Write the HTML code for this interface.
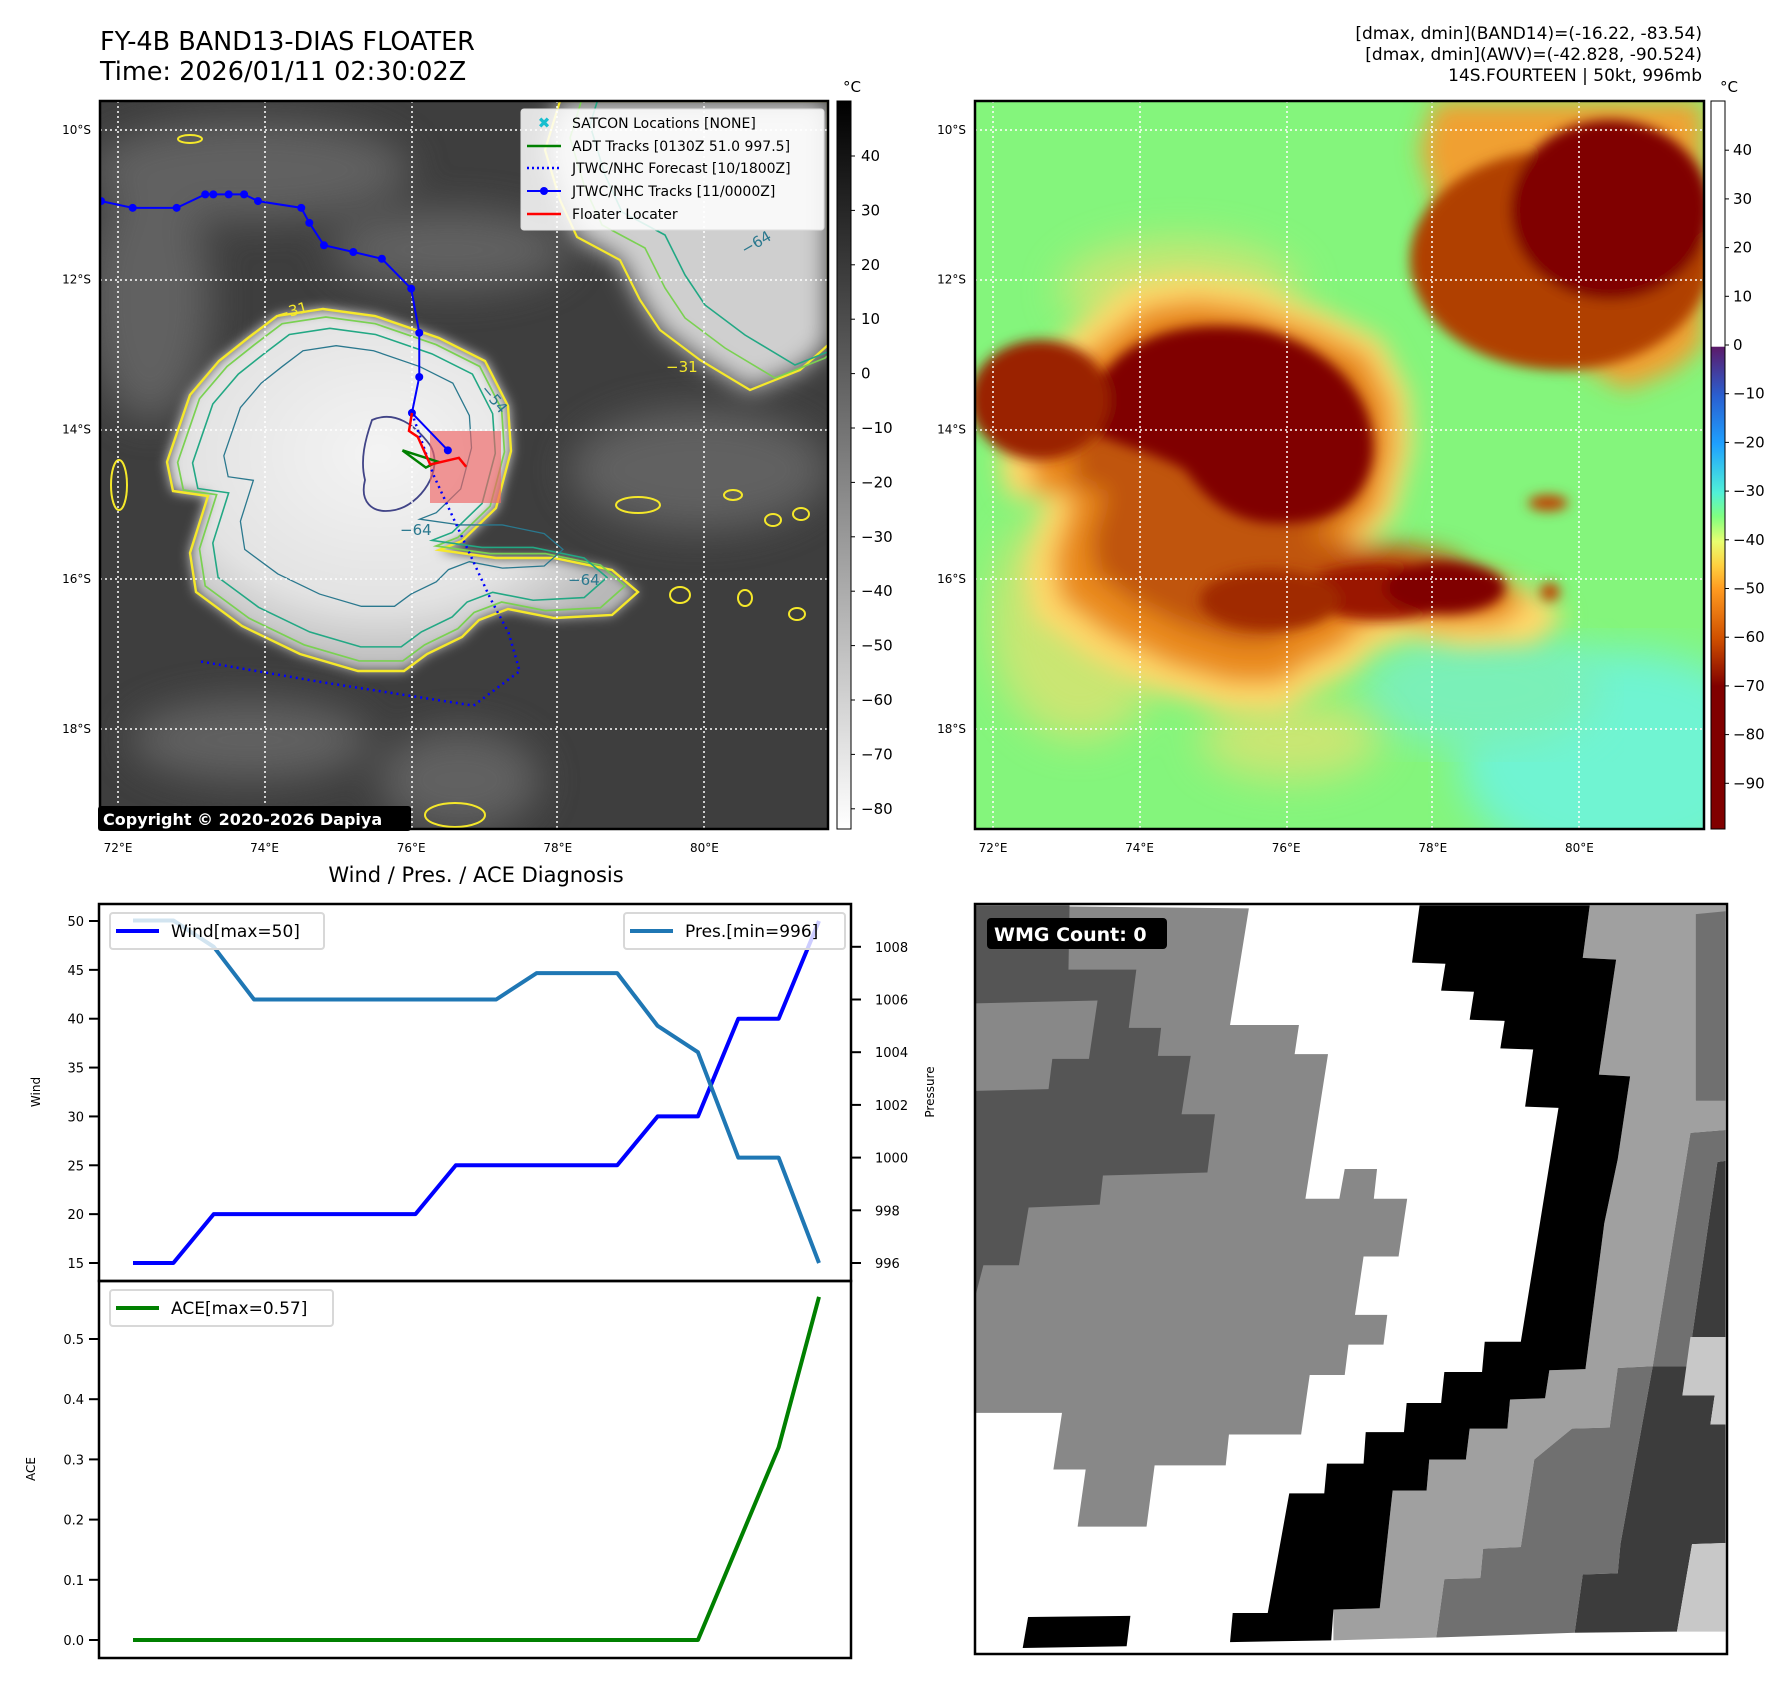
<!DOCTYPE html>
<html><head><meta charset="utf-8"><style>
html,body{margin:0;padding:0;background:#fff;}
body{width:1792px;height:1690px;position:relative;overflow:hidden;font-family:"DejaVu Sans","Liberation Sans",sans-serif;}
svg text{font-family:"DejaVu Sans","Liberation Sans",sans-serif;}
</style></head><body>
<svg id="fig" width="1792" height="1690" viewBox="0 0 1792 1690" xmlns="http://www.w3.org/2000/svg">
<defs>
  <filter id="blur6"><feGaussianBlur stdDeviation="6"/></filter>
  <filter id="blur12"><feGaussianBlur stdDeviation="12"/></filter>
  <filter id="blur20"><feGaussianBlur stdDeviation="20"/></filter>
  <radialGradient id="cloudg" cx="0.45" cy="0.4" r="0.6"><stop offset="0" stop-color="#f4f4f4"/><stop offset="0.7" stop-color="#e2e2e2"/><stop offset="1" stop-color="#b8b8b8"/></radialGradient>
  <linearGradient id="cbgray" x1="0" y1="0" x2="0" y2="1"><stop offset="0" stop-color="#000"/><stop offset="1" stop-color="#fff"/></linearGradient>
  <linearGradient id="cbcol" x1="0" y1="0" x2="0" y2="1">
    <stop offset="0" stop-color="#fff"/><stop offset="0.337" stop-color="#fff"/>
    <stop offset="0.338" stop-color="#5c1a6a"/><stop offset="0.405" stop-color="#2a5fd0"/>
    <stop offset="0.471" stop-color="#1ea0ff"/><stop offset="0.538" stop-color="#50f0d8"/>
    <stop offset="0.571" stop-color="#80ff80"/><stop offset="0.605" stop-color="#e8ff70"/>
    <stop offset="0.638" stop-color="#ffd040"/><stop offset="0.671" stop-color="#ff9a20"/>
    <stop offset="0.738" stop-color="#d05000"/><stop offset="0.804" stop-color="#800000"/><stop offset="1" stop-color="#800000"/>
  </linearGradient>
  <clipPath id="clipL"><rect x="100" y="101" width="728" height="728"/></clipPath>
  <clipPath id="clipR"><rect x="975" y="101" width="729" height="728"/></clipPath>
  <clipPath id="clipB"><rect x="975" y="904" width="752" height="750"/></clipPath>
  <path id="stormOutline" d="M277,316 L323,309 L375,316 L439,338 L485,361 L508,406 L511,451 L496,508 L462,541 L439,550 L496,558 L554,558 L612,570 L638,592 L612,615 L554,618 L508,609 L479,620 L462,637 L427,654 L404,671 L358,671 L300,654 L242,626 L196,592 L190,553 L208,496 L173,491 L167,462 L190,395 L219,361 L248,338 Z"/>
  <path id="nwCloud" d="M577,237 L620,260 L640,300 L660,330 L700,360 L750,390 L800,370 L828,345 L828,101 L560,101 L545,150 L560,200 Z"/>
</defs>

<!-- Titles -->
<text x="100" y="50" font-size="25.5" fill="#000">FY-4B BAND13-DIAS FLOATER</text>
<text x="100" y="80" font-size="25.5" fill="#000">Time: 2026/01/11 02:30:02Z</text>
<g font-size="17" text-anchor="end" fill="#000">
  <text x="1702" y="39">[dmax, dmin](BAND14)=(-16.22, -83.54)</text>
  <text x="1702" y="60">[dmax, dmin](AWV)=(-42.828, -90.524)</text>
  <text x="1702" y="81">14S.FOURTEEN | 50kt, 996mb</text>
</g>

<!-- LEFT MAP -->
<g clip-path="url(#clipL)">
  <rect x="100" y="101" width="728" height="728" fill="#3e3e3e"/>
  <g filter="url(#blur20)" fill="#6a6a6a" opacity="0.8">
    <ellipse cx="250" cy="170" rx="160" ry="50"/>
    <ellipse cx="450" cy="250" rx="120" ry="40"/>
    <ellipse cx="150" cy="300" rx="60" ry="120"/>
    <ellipse cx="700" cy="470" rx="130" ry="60"/>
    <ellipse cx="460" cy="780" rx="80" ry="50"/>
    <ellipse cx="250" cy="740" rx="120" ry="40"/>
  </g>
  <use href="#nwCloud" fill="#cfcfcf" filter="url(#blur12)"/>
  <use href="#stormOutline" fill="url(#cloudg)" filter="url(#blur6)"/>
  <use href="#nwCloud" fill="none" stroke="#f5e82a" stroke-width="2.2"/>
  <use href="#nwCloud" fill="none" stroke="#7ad151" stroke-width="1.6" transform="translate(25,-12)"/>
  <use href="#nwCloud" fill="none" stroke="#22a884" stroke-width="1.6" transform="translate(45,-25)"/>
  <use href="#stormOutline" fill="none" stroke="#f5e82a" stroke-width="2.4"/>
  <use href="#stormOutline" fill="none" stroke="#7ad151" stroke-width="1.8" transform="translate(380,470) scale(0.95) translate(-380,-470)"/>
  <use href="#stormOutline" fill="none" stroke="#22a884" stroke-width="1.8" transform="translate(380,470) scale(0.88) translate(-380,-470)"/>
  <use href="#stormOutline" fill="none" stroke="#2a788e" stroke-width="1.8" transform="translate(370,440) scale(0.72) translate(-370,-440)"/>
  <path d="M372,420 C395,410 415,425 430,445 C445,470 420,505 395,510 C370,515 360,500 365,480 C360,460 365,440 372,420 Z" fill="none" stroke="#414487" stroke-width="1.8"/>
  <ellipse cx="638" cy="505" rx="22" ry="8" fill="none" stroke="#f5e82a" stroke-width="2"/>
  <g fill="none" stroke="#f5e82a" stroke-width="2">
    <ellipse cx="733" cy="495" rx="9" ry="5"/><ellipse cx="773" cy="520" rx="8" ry="6"/>
    <ellipse cx="801" cy="514" rx="8" ry="6"/><ellipse cx="680" cy="595" rx="10" ry="8"/>
    <ellipse cx="745" cy="598" rx="7" ry="8"/><ellipse cx="797" cy="614" rx="8" ry="6"/>
    <ellipse cx="190" cy="139" rx="12" ry="4"/><ellipse cx="119" cy="485" rx="8" ry="25"/>
    <ellipse cx="455" cy="815" rx="30" ry="12"/>
  </g>
  <g stroke="#fff" stroke-width="1.5" stroke-dasharray="2,3" fill="none">
    <line x1="100" y1="130" x2="828" y2="130"/><line x1="100" y1="280" x2="828" y2="280"/>
    <line x1="100" y1="430" x2="828" y2="430"/><line x1="100" y1="579" x2="828" y2="579"/>
    <line x1="100" y1="729" x2="828" y2="729"/>
    <line x1="118" y1="101" x2="118" y2="829"/><line x1="265" y1="101" x2="265" y2="829"/>
    <line x1="412" y1="101" x2="412" y2="829"/><line x1="557" y1="101" x2="557" y2="829"/>
    <line x1="704" y1="101" x2="704" y2="829"/>
  </g>
  <rect x="430" y="431" width="71" height="72" fill="rgba(240,100,100,0.65)"/>
  <g font-size="15" fill="#2a788e">
    <text x="480" y="390" transform="rotate(50 480 390)">−54</text>
    <text x="400" y="535">−64</text>
    <text x="568" y="585">−64</text>
    <text x="745" y="255" transform="rotate(-30 745 255)">−64</text>
  </g>
  <g font-size="15" fill="#f5e82a"><text x="278" y="320" transform="rotate(-15 278 320)">−31</text><text x="666" y="372">−31</text></g>
  <g id="tracks"></g>
</g>
<rect x="100" y="101" width="728" height="728" fill="none" stroke="#000" stroke-width="2.5"/>
<rect x="98" y="806" width="313" height="25" rx="3" fill="#000"/>
<text x="103" y="825" font-size="16" font-weight="bold" fill="#fff">Copyright © 2020-2026 Dapiya</text>
<g>
  <rect x="521" y="109" width="303" height="121" rx="3" fill="rgba(255,255,255,0.85)" stroke="#ddd"/>
  <text x="544" y="128" font-size="15" fill="#17becf" text-anchor="middle" font-weight="bold">✖</text>
  <line x1="527" y1="146" x2="561" y2="146" stroke="#008000" stroke-width="2.5"/>
  <line x1="527" y1="168" x2="561" y2="168" stroke="#0000ff" stroke-width="2.5" stroke-dasharray="2,3"/>
  <line x1="527" y1="191" x2="561" y2="191" stroke="#0000ff" stroke-width="2"/><circle cx="544" cy="191" r="4" fill="#0000ff"/>
  <line x1="527" y1="214" x2="561" y2="214" stroke="#ff0000" stroke-width="2.5"/>
  <g font-size="14" fill="#000">
    <text x="572" y="128">SATCON Locations [NONE]</text>
    <text x="572" y="151">ADT Tracks [0130Z 51.0 997.5]</text>
    <text x="572" y="173">JTWC/NHC Forecast [10/1800Z]</text>
    <text x="572" y="196">JTWC/NHC Tracks [11/0000Z]</text>
    <text x="572" y="219">Floater Locater</text>
  </g>
</g>
<rect x="837" y="101" width="14" height="728" fill="url(#cbgray)" stroke="#000" stroke-width="1"/>
<text x="852" y="92" font-size="15" text-anchor="middle">°C</text>
<g id="cbLticks" font-size="15" fill="#000"></g>
<g id="mapLabels" font-size="12" fill="#000"></g>

<!-- RIGHT MAP -->
<g clip-path="url(#clipR)">
  <rect x="975" y="101" width="729" height="728" fill="#84f57c"/>
  <ellipse cx="1620" cy="760" rx="160" ry="110" fill="#6ff4d2" filter="url(#blur20)"/>
  <ellipse cx="1480" cy="690" rx="120" ry="60" fill="#7af0b8" filter="url(#blur20)"/>
  <g filter="url(#blur20)" fill="#e8e070" opacity="0.7">
    <ellipse cx="1080" cy="620" rx="90" ry="120"/>
    <ellipse cx="1180" cy="290" rx="120" ry="50"/>
    <ellipse cx="1290" cy="740" rx="90" ry="40"/>
  </g>
  <g filter="url(#blur12)">
    <use href="#nwCloud" fill="#f0a030" transform="translate(875,0)"/>
    <use href="#stormOutline" fill="#ffd86a" transform="translate(1255,470) scale(1.2) translate(-380,-470)"/>
    <use href="#stormOutline" fill="#ea8a1c" transform="translate(1255,470) scale(1.06) translate(-380,-470)"/>
    <use href="#stormOutline" fill="#c05508" transform="translate(1245,460) scale(0.86) translate(-370,-460)"/>
  </g>
  <g filter="url(#blur6)">
    <ellipse cx="1560" cy="260" rx="150" ry="110" fill="#b04000"/>
    <ellipse cx="1610" cy="210" rx="100" ry="90" fill="#800000"/>
    <path d="M1100,380 C1130,330 1200,320 1260,330 C1330,345 1380,400 1372,460 C1362,515 1310,528 1260,522 C1220,515 1200,490 1185,470 C1160,455 1120,445 1098,435 Z" fill="#800000"/>
    <ellipse cx="1380" cy="592" rx="80" ry="28" fill="#9a1800"/>
    <ellipse cx="1445" cy="588" rx="60" ry="26" fill="#800000"/>
    <ellipse cx="1270" cy="600" rx="70" ry="30" fill="#a02a00"/>
    <ellipse cx="1040" cy="400" rx="70" ry="60" fill="#9a2000"/>
    <ellipse cx="1548" cy="503" rx="20" ry="8" fill="#c04000"/>
    <ellipse cx="1550" cy="592" rx="10" ry="9" fill="#c04000"/>
  </g>
  <g stroke="#fff" stroke-width="1.5" stroke-dasharray="2,3" fill="none">
    <line x1="975" y1="130" x2="1704" y2="130"/><line x1="975" y1="280" x2="1704" y2="280"/>
    <line x1="975" y1="430" x2="1704" y2="430"/><line x1="975" y1="579" x2="1704" y2="579"/>
    <line x1="975" y1="729" x2="1704" y2="729"/>
    <line x1="993" y1="101" x2="993" y2="829"/><line x1="1140" y1="101" x2="1140" y2="829"/>
    <line x1="1287" y1="101" x2="1287" y2="829"/><line x1="1432" y1="101" x2="1432" y2="829"/>
    <line x1="1579" y1="101" x2="1579" y2="829"/>
  </g>
</g>
<rect x="975" y="101" width="729" height="728" fill="none" stroke="#000" stroke-width="2.5"/>
<rect x="1711" y="101" width="14" height="728" fill="url(#cbcol)" stroke="#000" stroke-width="1"/>
<text x="1729" y="92" font-size="15" text-anchor="middle">°C</text>
<g id="cbRticks" font-size="15" fill="#000"></g>

<!-- BOTTOM RIGHT -->
<g clip-path="url(#clipB)">
  <rect x="975" y="904" width="752" height="750" fill="#fff"/>
  <g transform="translate(950,780) scale(0.5385,0.5833)">
    <polygon fill="#888" points="47,215 555,220 520,420 648,420 640,470 702,470 660,718 723,718 733,667 793,667 787,718 849,718 833,817 768,817 752,917 812,917 805,968 740,968 733,1020 668,1020 652,1122 518,1122 512,1175 380,1175 365,1280 237,1280 252,1182 192,1182 208,1085 47,1085"/>
    <polygon fill="#555" points="47,215 222,215 220,325 346,325 332,425 392,425 386,473 447,473 430,573 492,573 478,673 284,678 278,728 146,733 128,832 62,832 47,885"/>
    <polygon fill="#888" points="47,383 274,378 258,478 190,478 183,530 47,533"/>
    <polygon fill="#a0a0a0" points="1188,215 1440,215 1440,240 1385,550 1440,550 1440,600 1375,605 1305,1005 1240,1008 1225,1110 1155,1112 1085,1165 1060,1315 990,1318 985,1368 918,1370 903,1470 712,1475 712,1422 798,1420 822,1218 885,1218 890,1165 958,1165 965,1112 1035,1112 1040,1062 1105,1060 1113,1012 1180,1010 1215,760 1240,650 1263,508 1205,505 1237,308 1175,305"/>
    <polygon fill="#707070" points="1385,230 1440,225 1440,550 1385,550"/>
    <polygon fill="#707070" points="1375,605 1440,600 1440,653 1425,655 1378,955 1370,1005 1305,1005"/>
    <polygon fill="#707070" points="1240,1008 1305,1005 1245,1310 1240,1360 1175,1362 1160,1462 903,1470 918,1370 985,1368 990,1318 1060,1315 1085,1165 1155,1112 1225,1110"/>
    <polygon fill="#3c3c3c" points="1425,655 1440,653 1440,955 1378,955"/>
    <polygon fill="#3c3c3c" points="1305,1005 1370,1005 1360,1055 1420,1055 1412,1105 1440,1105 1440,1308 1378,1310 1350,1460 1160,1462 1175,1362 1240,1360 1245,1310"/>
    <polygon fill="#c8c8c8" points="1375,955 1440,955 1440,1105 1412,1105 1420,1055 1360,1055"/>
    <polygon fill="#c8c8c8" points="1378,1310 1440,1308 1440,1460 1350,1460"/>
    <polygon fill="#000" points="872,215 1188,215 1175,305 1237,308 1205,505 1263,508 1240,650 1215,760 1180,1010 1113,1012 1105,1060 1040,1062 1035,1112 965,1112 958,1165 890,1165 885,1218 822,1218 798,1420 712,1422 708,1475 520,1478 525,1428 590,1428 630,1223 695,1223 700,1172 768,1172 772,1118 843,1118 848,1068 912,1068 918,1015 988,1015 993,963 1060,963 1130,562 1068,560 1083,462 1022,460 1030,413 965,411 973,363 912,361 920,315 858,313"/>
    <polygon fill="#000" points="145,1435 335,1433 328,1485 135,1488"/>
  </g>
</g>
<rect x="975" y="904" width="752" height="750" fill="none" stroke="#000" stroke-width="2.5"/>
<rect x="987" y="918" width="180" height="31" rx="4" fill="#000"/>
<text x="994" y="941" font-size="19" font-weight="bold" fill="#fff">WMG Count: 0</text>

<!-- BOTTOM LEFT CHART -->
<text x="476" y="882" font-size="21" text-anchor="middle">Wind / Pres. / ACE Diagnosis</text>
<g id="chart"></g>
</svg>

<script>
// ---- chart data ----
const steps = [0,1,2,3,4,5,6,7,8,9,10,11,12,13,14,15,16,17];
const windValues = [15,15,20,20,20,20,20,20,25,25,25,25,25,30,30,40,40,50];
const presValues = [1009,1009,1008,1006,1006,1006,1006,1006,1006,1006,1007,1007,1007,1005,1004,1000,1000,996];
const aceValues = [0,0,0,0,0,0,0,0,0,0,0,0,0,0,0,0.16,0.32,0.57];
const windTicks = [15,20,25,30,35,40,45,50];
const presTicks = [996,998,1000,1002,1004,1006,1008];
const aceTicks = [0.0,0.1,0.2,0.3,0.4,0.5];
// ---- track data (lon E, lat S) ----
const bestLon = [71.77,72.20,72.80,73.19,73.30,73.51,73.72,73.91,74.50,74.61,74.81,75.21,75.60,76.00,76.11,76.11,76.01,76.50];
const bestLat = [10.95,11.04,11.04,10.86,10.86,10.86,10.86,10.95,11.04,11.24,11.54,11.63,11.72,12.12,12.71,13.30,13.78,14.28];
const fcstLon = [76.01,76.30,77.08,77.33,77.48,76.85,74.80,73.12];
const fcstLat = [13.78,14.60,16.26,16.72,17.23,17.69,17.38,17.10];
const floaterLon = [76.01,75.97,76.09,76.26,76.65,76.75];
const floaterLat = [13.78,14.02,14.10,14.47,14.38,14.50];
const adtLon = [75.88,76.36,76.20,75.88];
const adtLat = [14.28,14.43,14.51,14.28];
const latTicks = [10,12,14,16,18];
const lonTicks = [72,74,76,78,80];
const grayCbTicks = [40,30,20,10,0,-10,-20,-30,-40,-50,-60,-70,-80];
const colorCbTicks = [40,30,20,10,0,-10,-20,-30,-40,-50,-60,-70,-80,-90];

const NS = 'http://www.w3.org/2000/svg';
function mk(parent, tag, attrs, text){
  const e = document.createElementNS(NS, tag);
  for (const k in attrs) e.setAttribute(k, attrs[k]);
  if (text !== undefined) e.textContent = text;
  parent.appendChild(e);
  return e;
}
function fmt(v){ return (v<0?'\u2212':'') + Math.abs(v); }

const mx = lon => 118 + (lon-72)*73.3;
const my = lat => 130 + (lat-10)*74.85;

const tr = document.getElementById('tracks');
function pts(lons, lats){ return lons.map((l,i)=>mx(l)+','+my(lats[i])).join(' '); }
let fl = mk(tr,'polyline',{points:pts(fcstLon,fcstLat),fill:'none',stroke:'#0000ff','stroke-width':2.5,'stroke-dasharray':'2,4'});


let bl = mk(tr,'polyline',{points:pts(bestLon,bestLat),fill:'none',stroke:'#0000ff','stroke-width':2});


bestLon.forEach((l,i)=>{
  const c = mk(tr,'circle',{cx:mx(l),cy:my(bestLat[i]),r:4,fill:'#0000ff'});
  
  
});
let al = mk(tr,'polyline',{points:pts(adtLon,adtLat),fill:'none',stroke:'#008000','stroke-width':2.5});


let rl = mk(tr,'polyline',{points:pts(floaterLon,floaterLat),fill:'none',stroke:'#ff0000','stroke-width':2.5});



const ml = document.getElementById('mapLabels');
[0,875].forEach(off=>{
  latTicks.forEach(v=>{
    const t = mk(ml,'text',{x:91+off,y:my(v)+4,'text-anchor':'end'}, v+'°S');
    
    
  });
  lonTicks.forEach(v=>{
    const t = mk(ml,'text',{x:mx(v)+off,y:852,'text-anchor':'middle'}, v+'°E');
    
    
  });
});

const cl = document.getElementById('cbLticks');
grayCbTicks.forEach(v=>{
  const y = 156 + (40-v)*5.44;
  mk(cl,'line',{x1:851,y1:y,x2:855,y2:y,stroke:'#000','stroke-width':1});
  const t = mk(cl,'text',{x:861,y:y+5}, fmt(v));
  
  
});
const cr = document.getElementById('cbRticks');
colorCbTicks.forEach(v=>{
  const y = 345 - v*4.87;
  mk(cr,'line',{x1:1725,y1:y,x2:1729,y2:y,stroke:'#000','stroke-width':1});
  const t = mk(cr,'text',{x:1733,y:y+5}, fmt(v));
  
  
});

// ---- diagnosis chart ----
const ch = document.getElementById('chart');
const X0 = 133, X1 = 819;
const xi = i => X0 + i*(X1-X0)/(steps.length-1);
const yW = v => 1263 - (v-15)*(342/35);
const yP = p => 1263 - (p-996)*26.35;
const yA = a => 1640 - a*602;

mk(ch,'rect',{x:99,y:904,width:752,height:377,fill:'#fff'});
mk(ch,'rect',{x:99,y:1281,width:752,height:377,fill:'#fff'});

windTicks.forEach(v=>{
  mk(ch,'line',{x1:89,y1:yW(v),x2:99,y2:yW(v),stroke:'#000','stroke-width':2});
  const t = mk(ch,'text',{x:84,y:yW(v)+5,'font-size':13,'text-anchor':'end'}, String(v));
  
  
});
presTicks.forEach(v=>{
  mk(ch,'line',{x1:851,y1:yP(v),x2:861,y2:yP(v),stroke:'#000','stroke-width':2});
  const t = mk(ch,'text',{x:875,y:yP(v)+5,'font-size':13}, String(v));
  
  
});
aceTicks.forEach(v=>{
  mk(ch,'line',{x1:89,y1:yA(v),x2:99,y2:yA(v),stroke:'#000','stroke-width':2});
  const t = mk(ch,'text',{x:84,y:yA(v)+5,'font-size':13,'text-anchor':'end'}, v.toFixed(1));
  
  
});
let yl = mk(ch,'text',{x:40,y:1092,'font-size':12,'text-anchor':'middle',transform:'rotate(-90 40 1092)'},'Wind');


let pl = mk(ch,'text',{x:934,y:1092,'font-size':12,'text-anchor':'middle',transform:'rotate(-90 934 1092)'},'Pressure');


let alab = mk(ch,'text',{x:35,y:1469,'font-size':12,'text-anchor':'middle',transform:'rotate(-90 35 1469)'},'ACE');



let wl = mk(ch,'polyline',{points:steps.map(i=>xi(i)+','+yW(windValues[i])).join(' '),fill:'none',stroke:'#0000ff','stroke-width':4,'stroke-linejoin':'round'});


let prl = mk(ch,'polyline',{points:steps.map(i=>xi(i)+','+yP(presValues[i])).join(' '),fill:'none',stroke:'#1f77b4','stroke-width':4,'stroke-linejoin':'round'});


let acl = mk(ch,'polyline',{points:steps.map(i=>xi(i)+','+yA(aceValues[i])).join(' '),fill:'none',stroke:'#008000','stroke-width':4,'stroke-linejoin':'round'});



function legend(x,y,w,color,label,name){
  const g = mk(ch,'g',{});
  
  
  mk(g,'rect',{x:x,y:y,width:w,height:36,rx:3,fill:'rgba(255,255,255,0.8)',stroke:'#d8d8d8','stroke-width':2});
  mk(g,'line',{x1:x+6,y1:y+18,x2:x+49,y2:y+18,stroke:color,'stroke-width':4});
  mk(g,'text',{x:x+61,y:y+24,'font-size':17}, label);
}
legend(110,913,214,'#0000ff','Wind[max=50]','wind-legend');
legend(624,913,221,'#1f77b4','Pres.[min=996]','pressure-legend');
legend(110,1290,223,'#008000','ACE[max=0.57]','ace-legend');

let f1 = mk(ch,'rect',{x:99,y:904,width:752,height:377,fill:'none',stroke:'#000','stroke-width':2.5});


let f2 = mk(ch,'rect',{x:99,y:1281,width:752,height:377,fill:'none',stroke:'#000','stroke-width':2.5});


</script>
</body></html>
